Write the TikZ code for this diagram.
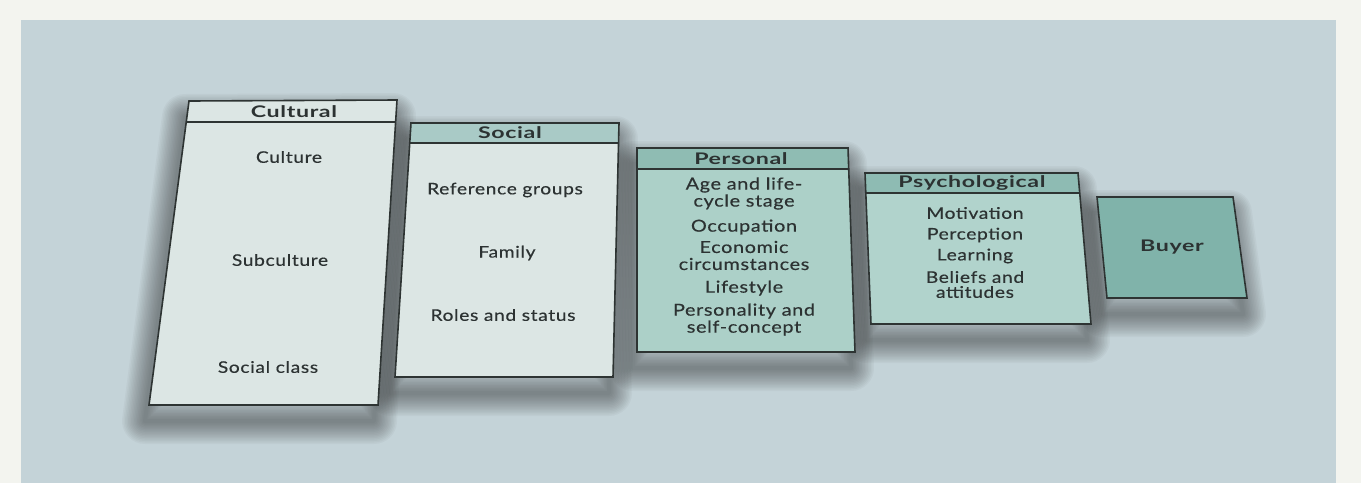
\documentclass[tikz,border=0pt]{standalone}
\usepackage{fontspec}
\setmainfont{Lato}
\newfontfamily\bodyfont[FakeStretch=1.2,LetterSpace=4,FakeBold=0.4]{Lato}
\newfontfamily\hdrfont[FakeStretch=1.45,LetterSpace=4,UprightFont=* Bold]{Lato}
\definecolor{outer}{HTML}{F3F4EF}
\definecolor{bgc}{HTML}{C4D3D8}
\definecolor{lightfill}{HTML}{DCE6E4}
\definecolor{tealhdr}{HTML}{A9CAC6}
\definecolor{perbody}{HTML}{ACD0C8}
\definecolor{perhdr}{HTML}{8FBCB3}
\definecolor{psybody}{HTML}{B1D3CC}
\definecolor{psyhdr}{HTML}{8EBBB3}
\definecolor{buyerc}{HTML}{80B3AA}
\definecolor{edge}{HTML}{2E3433}
\definecolor{txt}{HTML}{2C3232}
\tikzset{
  shadowlayer/.style={draw=black!85, opacity=0.035, line join=round},
  boxedge/.style={draw=edge, line width=1.6pt, line join=miter},
  hdrline/.style={draw=edge, line width=1.6pt},
  hdrtext/.style={font=\hdrfont\fontsize{16}{17}\selectfont, text=txt, inner sep=0pt},
  itemtext/.style={font=\bodyfont\fontsize{16}{17}\selectfont, text=txt, inner sep=0pt, align=center},
}
\newcommand{\softshadow}[1]{%
  \foreach \w in {46,43,...,2} {
    \path[shadowlayer, line width=\w pt, shift={(-4,16)}] #1;
  }%
}
\begin{document}
\begin{tikzpicture}[x=1pt,y=-1pt]
\useasboundingbox (0,0) rectangle (1361,483);
\fill[outer] (0,0) rectangle (1361,483);
\fill[bgc] (21,20) rectangle (1336,483);

% shadows
\begin{scope}
\clip (21,20) rectangle (1336,483);
\softshadow{(189,101) -- (397,100) -- (378,405) -- (149,405) -- cycle}
\softshadow{(411,123) -- (619,123) -- (613,377) -- (395,377) -- cycle}
\softshadow{(637,148) -- (848,148) -- (855,352) -- (637,352) -- cycle}
\softshadow{(865,173) -- (1078,173) -- (1091,324) -- (871,324) -- cycle}
\softshadow{(1097,197) -- (1233,197) -- (1247,298) -- (1107,298) -- cycle}
\end{scope}

% Cultural
\fill[lightfill] (189,101) -- (397,100) -- (378,405) -- (149,405) -- cycle;
\draw[hdrline] (186.2,122) -- (395.6,122);
\draw[boxedge] (189,101) -- (397,100) -- (378,405) -- (149,405) -- cycle;
\node[hdrtext] (cultural) at (294,112) {Cultural};
\node[itemtext] (culture) at (289,157) {Culture};
\node[itemtext] (subculture) at (280,260) {Subculture};
\node[itemtext] (socialclass) at (268,367) {Social class};

% Social
\fill[lightfill] (411,123) -- (619,123) -- (613,377) -- (395,377) -- cycle;
\fill[tealhdr] (411,123) -- (619,123) -- (618.5,143) -- (409.7,143) -- cycle;
\draw[hdrline] (409.7,143) -- (618.5,143);
\draw[boxedge] (411,123) -- (619,123) -- (613,377) -- (395,377) -- cycle;
\node[hdrtext] (social) at (510,133) {Social};
\node[itemtext] (refgroups) at (505,190) {Reference groups};
\node[itemtext] (family) at (507,253) {Family};
\node[itemtext] (roles) at (503,315) {Roles and status};

% Personal
\fill[perbody] (637,148) -- (848,148) -- (855,352) -- (637,352) -- cycle;
\fill[perhdr] (637,148) -- (848,148) -- (848.7,169) -- (637,169) -- cycle;
\draw[hdrline] (637,169) -- (848.7,169);
\draw[boxedge] (637,148) -- (848,148) -- (855,352) -- (637,352) -- cycle;
\node[hdrtext] (personal) at (741,159) {Personal};
\node[itemtext, font=\bodyfont\fontsize{16.5}{17}\selectfont] (age) at (744,193.5) {Age and life-\\cycle stage};
\node[itemtext, font=\bodyfont\fontsize{16.5}{17}\selectfont] (occupation) at (744,227) {Occupation};
\node[itemtext, font=\bodyfont\fontsize{16.5}{17}\selectfont] (economic) at (744,255.5) {Economic\\circumstances};
\node[itemtext, font=\bodyfont\fontsize{16.5}{17}\selectfont] (lifestyle) at (744,288) {Lifestyle};
\node[itemtext, font=\bodyfont\fontsize{16.5}{17}\selectfont] (personality) at (744,319.5) {Personality and\\self-concept};

% Psychological
\fill[psybody] (865,173) -- (1078,173) -- (1091,324) -- (871,324) -- cycle;
\fill[psyhdr] (865,173) -- (1078,173) -- (1079.7,193) -- (865.8,193) -- cycle;
\draw[hdrline] (865.8,193) -- (1079.7,193);
\draw[boxedge] (865,173) -- (1078,173) -- (1091,324) -- (871,324) -- cycle;
\node[hdrtext] (psychological) at (972,183) {Psychological};
\node[itemtext] (motivation) at (975,213) {Motivation};
\node[itemtext] (perception) at (975,235) {Perception};
\node[itemtext] (learning) at (975,256) {Learning};
\node[itemtext, font=\bodyfont\fontsize{16}{15}\selectfont] (beliefs) at (975,284.5) {Beliefs and\\attitudes};

% Buyer
\fill[buyerc] (1097,197) -- (1233,197) -- (1247,298) -- (1107,298) -- cycle;
\draw[boxedge] (1097,197) -- (1233,197) -- (1247,298) -- (1107,298) -- cycle;
\node[hdrtext] (buyer) at (1172,247) {Buyer};
\end{tikzpicture}
\end{document}
